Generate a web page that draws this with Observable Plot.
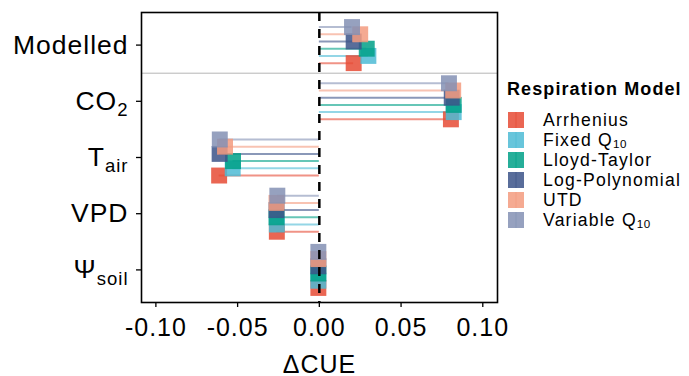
<!DOCTYPE html>
<html><head><meta charset="utf-8">
<script src="https://cdn.jsdelivr.net/npm/d3@7"></script>
<script src="https://cdn.jsdelivr.net/npm/@observablehq/plot@0.6"></script>
<style>
html,body{margin:0;padding:0;background:#fff;}
#wrap{position:relative;width:689px;height:376px;font-family:"Liberation Sans",Arial,Helvetica,sans-serif;color:#000;overflow:hidden;}
#wrap svg{position:absolute;left:0;top:0;font-family:"Liberation Sans",Arial,Helvetica,sans-serif;color:#000;}
.chart text{letter-spacing:1px;}
.legend{position:absolute;left:507px;top:80px;}
.ltitle{font-weight:bold;font-size:18px;line-height:18px;letter-spacing:1.1px;white-space:nowrap;}
.items{margin-top:12px;}
.item{display:flex;align-items:center;height:20px;}
.key{position:relative;width:16px;height:16px;margin-left:1px;flex:none;}
.key i{position:absolute;left:7px;top:0;width:2px;height:16px;opacity:0.35;}
.lab{margin-left:19px;font-size:17.6px;line-height:17px;letter-spacing:1.2px;white-space:nowrap;}
.lab .sb{font-size:0.66em;position:relative;top:0.18em;letter-spacing:0.5px;line-height:0;}
</style></head><body><div id="wrap"></div>
<script>
// ---- data ----
const categories = ["Modelled", "CO_2", "T_air", "VPD", "Ψ_soil"];
const models = ["Arrhenius", "Fixed Q_10", "Lloyd-Taylor", "Log-Polynomial", "UTD", "Variable Q_10"];
const colors = ["#E64B35", "#4DBBD5", "#00A087", "#3C5488", "#F39B7F", "#8491B4"];
// ΔCUE per model (order of `models`) for each driver
const deltaModelled = [0.021, 0.030, 0.029, 0.021, 0.025, 0.020];
const deltaCO2      = [0.0805, 0.0822, 0.0822, 0.081, 0.0819, 0.0793];
const deltaTair     = [-0.0613, -0.053, -0.0528, -0.061, -0.0577, -0.0609];
const deltaVPD      = [-0.026, -0.026, -0.0262, -0.0262, -0.0262, -0.0257];
const deltaPsoil    = [-0.0006, -0.0006, -0.0006, -0.0006, -0.0006, -0.0006];
const xTicks = [-0.10, -0.05, 0.00, 0.05, 0.10];
const xLabel = "ΔCUE";
const legendTitle = "Respiration Model";

const seriesByCategory = [deltaModelled, deltaCO2, deltaTair, deltaVPD, deltaPsoil];
const rows = [];
categories.forEach((cat, ci) => {
  models.forEach((model, mi) => rows.push({cat, model, value: seriesByCategory[ci][mi]}));
});

// dodge inside each category (first model at the bottom)
const dodgeWidth = 0.77;
const yPos = d => categories.indexOf(d.cat) +
  ((models.length - 1) / 2 - models.indexOf(d.model)) * dodgeWidth / models.length;
// separator between the modelled total and the individual drivers
const separator = [categories.indexOf("Modelled") + 0.5];

const plot = Plot.plot({
  width: 689,
  height: 376,
  marginLeft: 141,
  marginRight: 192,
  marginTop: 12,
  marginBottom: 74,
  className: "chart",
  style: {fontFamily: '"Liberation Sans", Arial, sans-serif', color: "#000", background: "transparent"},
  x: {domain: [-0.1088, 0.109]},
  y: {domain: [-0.58, 4.58], reverse: true},
  color: {domain: models, range: colors},
  marks: [
    Plot.ruleY(separator, {stroke: "#b5b5b5", strokeWidth: 1}),
    Plot.ruleY(rows, {y: yPos, x1: 0, x2: "value", stroke: "model", strokeWidth: 2, strokeOpacity: 0.6}),
    Plot.dot(rows, {x: "value", y: yPos, symbol: "square", r: 9, fill: "model", fillOpacity: 0.85}),
    Plot.ruleX([0], {stroke: "#000", strokeWidth: 2.5, strokeDasharray: "9,8"}),
    Plot.frame({stroke: "#000", strokeWidth: 1.6}),
    Plot.axisX({ticks: xTicks, tickFormat: d => d.toFixed(2), tickSize: 5, tickPadding: 11,
      fontSize: 25, label: xLabel, labelAnchor: "center", labelArrow: "none", labelOffset: 70, strokeWidth: 1.3}),
    Plot.axisY({ticks: categories.map((_, i) => i), tickFormat: i => categories[i], tickSize: 5,
      tickPadding: 8, fontSize: 26.5, label: null, strokeWidth: 1.3})
  ]
});

// turn "A_b" tick labels into real subscripts; make sure the axis label has no arrow
plot.querySelectorAll("text").forEach(t => {
  const s = t.textContent;
  if (s.startsWith(xLabel) && s !== xLabel) { (t.querySelector("tspan") || t).textContent = xLabel; return; }
  if (!s.includes("_") || t.children.length > 1) return;
  const [main, sub] = s.split("_");
  const holder = t.querySelector("tspan") || t;
  holder.textContent = "";
  const ns = "http://www.w3.org/2000/svg";
  const a = document.createElementNS(ns, "tspan"); a.textContent = main;
  const b = document.createElementNS(ns, "tspan"); b.textContent = sub;
  b.setAttribute("font-size", "0.7em"); b.setAttribute("dy", "0.33em");
  holder.appendChild(a); holder.appendChild(b);
});

const wrap = document.getElementById("wrap");
wrap.appendChild(plot);

// legend
const lg = document.createElement("div");
lg.className = "legend";
const tt = document.createElement("div"); tt.className = "ltitle"; tt.textContent = legendTitle;
lg.appendChild(tt);
const items = document.createElement("div"); items.className = "items";
models.forEach((m, i) => {
  const it = document.createElement("div"); it.className = "item";
  const k = document.createElement("span"); k.className = "key";
  k.style.background = d3.color(colors[i]).copy({opacity: 0.85}).toString();
  const ln = document.createElement("i"); ln.style.background = colors[i]; k.appendChild(ln);
  const lb = document.createElement("span"); lb.className = "lab";
  const [main, sub] = m.split("_");
  lb.appendChild(document.createTextNode(main));
  if (sub) { const sb = document.createElement("span"); sb.className = "sb"; sb.textContent = sub; lb.appendChild(sb); }
  it.appendChild(k); it.appendChild(lb); items.appendChild(it);
});
lg.appendChild(items);
wrap.appendChild(lg);
</script></body></html>
